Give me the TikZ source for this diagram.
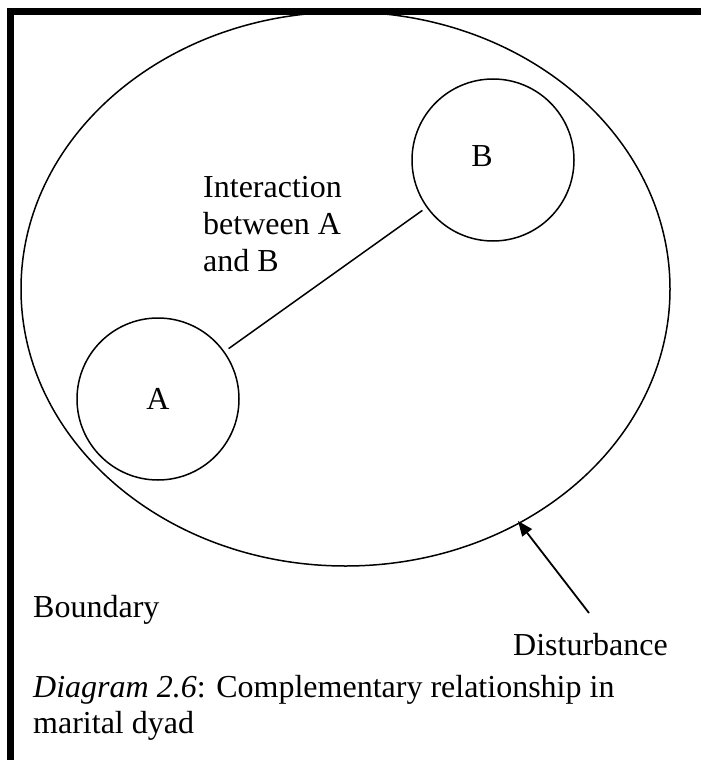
\documentclass[tikz,border=0pt]{standalone}
\usepackage{fontspec}
\setmainfont{Liberation Serif}
\usetikzlibrary{arrows.meta,shapes.geometric}
\begin{document}
\begin{tikzpicture}[x=1pt,y=-1pt,
  txt/.style={anchor=base west, inner sep=0pt, font=\fontsize{32}{38}\selectfont},
  lbl/.style={anchor=base, inner sep=0pt, font=\fontsize{32}{38}\selectfont},
  ring/.style={draw, circle, line width=1.5pt, minimum size=162pt, inner sep=0pt}]
\useasboundingbox (0,0) rectangle (701,760);
% frame
\draw[line width=6.5pt] (10.3,760) -- (10.3,11.5) -- (701,11.5);
% boundary ellipse
\node[draw, ellipse, line width=1.5pt, minimum width=649pt, minimum height=554pt, inner sep=0pt] (bound) at (345.5,289) {};
% partners
\node[ring] (A) at (158,399) {};
\node[ring] (B) at (493,160) {};
\node[lbl] (labA) at (158,409) {A};
\node[lbl] (labB) at (482,166) {B};
\draw[line width=1.5pt, shorten <=5pt, shorten >=5pt] (A) -- (B);
% texts
\node[txt] (t1) at (203,197.5) {Interaction};
\node[txt] (t2) at (203,234.5) {between A};
\node[txt] (t3) at (203,271) {and B};
\node[txt] (bnd) at (33,617) {Boundary};
\node[txt] (dist) at (513,655) {Disturbance};
\node[txt] (cap1) at (33,697) {\textit{Diagram 2.6}: Complementary relationship in};
\node[txt] (cap2) at (33,733) {marital dyad};
% disturbance arrow
\coordinate (dtail) at (589,613);
\coordinate (dtip) at (518,521);
\draw[line width=1.8pt, -{Triangle[length=15pt,width=12pt]}] (dtail) -- (dtip);
\end{tikzpicture}
\end{document}
